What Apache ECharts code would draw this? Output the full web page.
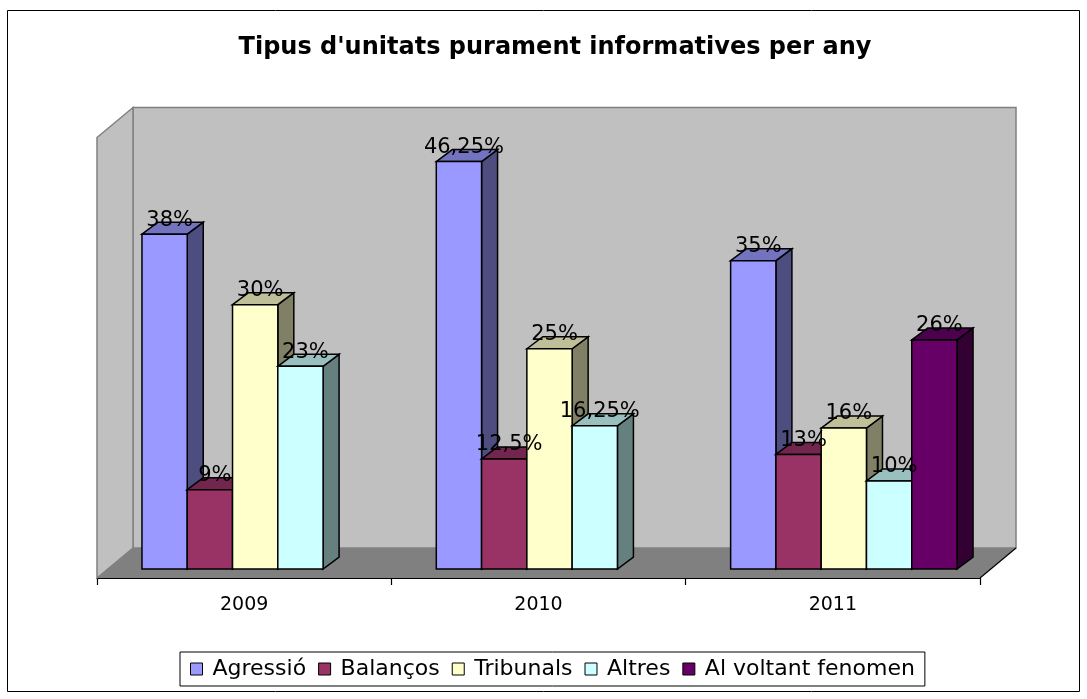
<!DOCTYPE html>
<html>
<head>
<meta charset="utf-8">
<script src="https://cdn.jsdelivr.net/npm/echarts@6/dist/echarts.min.js"></script>
<style>
  html, body { margin: 0; padding: 0; background: #fff; }
  #chart { width: 1087px; height: 699px; }
</style>
</head>
<body>
<div id="chart"></div>
<script>
const years = ['2009', '2010', '2011']
const seriesNames = ['Agressió', 'Balanços', 'Tribunals', 'Altres', 'Al voltant fenomen']
const agressio = [38, 46.25, 35]
const balancos = [9, 12.5, 13]
const tribunals = [30, 25, 16]
const altres = [23, 16.25, 10]
const alVoltant = [null, null, 26]
const valueMax = 50

const colors = ['#9999FF', '#993366', '#FFFFCC', '#CCFFFF', '#660066']
const topColors = ['#7373BF', '#73264D', '#BFBF99', '#99BFBF', '#4D004D']
const sideColors = ['#4D4D80', '#4D1A33', '#808066', '#668080', '#330033']

// 3d look: offsets relative to the plane of the bar fronts
const depth = [16, -12]
const front = [-11, 9]
const back = [25, -21]

const fmt = v => String(v).replace('.', ',') + '%'

function barRenderer(k) {
  return function (params, api) {
    const cat = api.value(0)
    const v = api.value(1)
    const base = api.coord([cat, 0])
    const top = api.coord([cat, v])
    const w = api.size([1, 0])[0] / 6.5
    const x0 = base[0] - 2.5 * w + k * w
    const x1 = x0 + w
    const y0 = base[1], y1 = top[1]
    const dx = depth[0], dy = depth[1]
    const line = { stroke: '#000', lineWidth: 1.5 }
    return {
      type: 'group',
      children: [
        { type: 'polygon', z2: k, shape: { points: [[x1, y1], [x1 + dx, y1 + dy], [x1 + dx, y0 + dy], [x1, y0]] }, style: Object.assign({ fill: sideColors[k] }, line) },
        { type: 'polygon', z2: k, shape: { points: [[x0, y1], [x0 + dx, y1 + dy], [x1 + dx, y1 + dy], [x1, y1]] }, style: Object.assign({ fill: topColors[k] }, line) },
        { type: 'rect', z2: k, shape: { x: x0, y: y1, width: w, height: y0 - y1 }, style: Object.assign({ fill: colors[k] }, line) },
        {
          type: 'text', z2: 100, x: (x0 + x1) / 2 + 5, y: y1 - 14,
          style: { text: fmt(v), font: '21px "DejaVu Sans"', fill: '#000', align: 'center', verticalAlign: 'middle', textAlign: 'center', textVerticalAlign: 'middle' }
        }
      ]
    }
  }
}

function wallRenderer(params) {
  const c = params.coordSys
  const x = c.x, y = c.y, w = c.width, h = c.height
  const gray = { stroke: '#808080', lineWidth: 1.5 }
  return {
    type: 'group',
    children: [
      { type: 'rect', shape: { x: x + back[0], y: y + back[1], width: w, height: h }, style: Object.assign({ fill: '#C0C0C0' }, gray) },
      { type: 'polygon', shape: { points: [[x + front[0], y + front[1]], [x + back[0], y + back[1]], [x + back[0], y + h + back[1]], [x + front[0], y + h + front[1]]] }, style: Object.assign({ fill: '#C0C0C0' }, gray) },
      { type: 'polygon', shape: { points: [[x + front[0], y + h + front[1]], [x + back[0], y + h + back[1]], [x + w + back[0], y + h + back[1]], [x + w + front[0], y + h + front[1]]] }, style: { fill: '#808080' } },
      { type: 'line', shape: { x1: x + w + front[0], y1: y + h + front[1], x2: x + w + back[0], y2: y + h + back[1] }, style: { stroke: '#000', lineWidth: 1.2 } }
    ]
  }
}

const seriesData = [agressio, balancos, tribunals, altres, alVoltant]

const option = {
  animation: false,
  backgroundColor: '#fff',
  color: colors,
  graphic: [
    { type: 'rect', shape: { x: 7.5, y: 10.5, width: 1072, height: 681 }, style: { fill: null, stroke: '#000', lineWidth: 1 } },
    {
      type: 'text', x: 555, y: 48,
      style: { text: "Tipus d'unitats purament informatives per any", font: 'bold 24px "DejaVu Sans"', fill: '#000', align: 'center', verticalAlign: 'middle', textAlign: 'center', textVerticalAlign: 'middle' }
    }
  ],
  legend: {
    data: seriesNames,
    left: 180,
    top: 652,
    icon: 'rect',
    itemWidth: 12,
    itemHeight: 12,
    itemGap: 12,
    padding: [5, 10],
    borderColor: '#000',
    borderWidth: 1,
    selectedMode: false,
    itemStyle: { borderColor: '#000', borderWidth: 1 },
    textStyle: { fontFamily: 'DejaVu Sans', fontSize: 22, color: '#000', padding: [0, 0, 0, 5], lineHeight: 24 }
  },
  grid: [
    { left: 108, right: 96, top: 128.5, bottom: 130 },
    { left: 97, right: 107, top: 128.5, bottom: 121 }
  ],
  xAxis: [
    { gridIndex: 0, type: 'category', data: years, show: false },
    {
      gridIndex: 1, type: 'category', data: years,
      axisLine: { show: true, lineStyle: { color: '#000', width: 1.2 } },
      axisTick: { show: true, inside: false, length: 7, lineStyle: { color: '#000', width: 1.2 } },
      axisLabel: { fontFamily: 'DejaVu Sans', fontSize: 19, color: '#000', margin: 18 }
    }
  ],
  yAxis: [
    { gridIndex: 0, type: 'value', min: 0, max: valueMax, show: false },
    { gridIndex: 1, type: 'value', min: 0, max: valueMax, show: false }
  ],
  series: [
    {
      name: 'walls', type: 'custom', xAxisIndex: 0, yAxisIndex: 0, z: 1,
      itemStyle: { color: '#C0C0C0' }, silent: true,
      renderItem: wallRenderer, data: [[0, 0]]
    }
  ].concat(seriesNames.map((name, k) => ({
    name: name,
    type: 'custom',
    xAxisIndex: 0,
    yAxisIndex: 0,
    z: 2,
    itemStyle: { color: colors[k] },
    renderItem: barRenderer(k),
    data: years.map((y, i) => [i, seriesData[k][i]]).filter(d => d[1] != null)
  })))
}

const chart = echarts.init(document.getElementById('chart'))
chart.setOption(option)
</script>
</body>
</html>
